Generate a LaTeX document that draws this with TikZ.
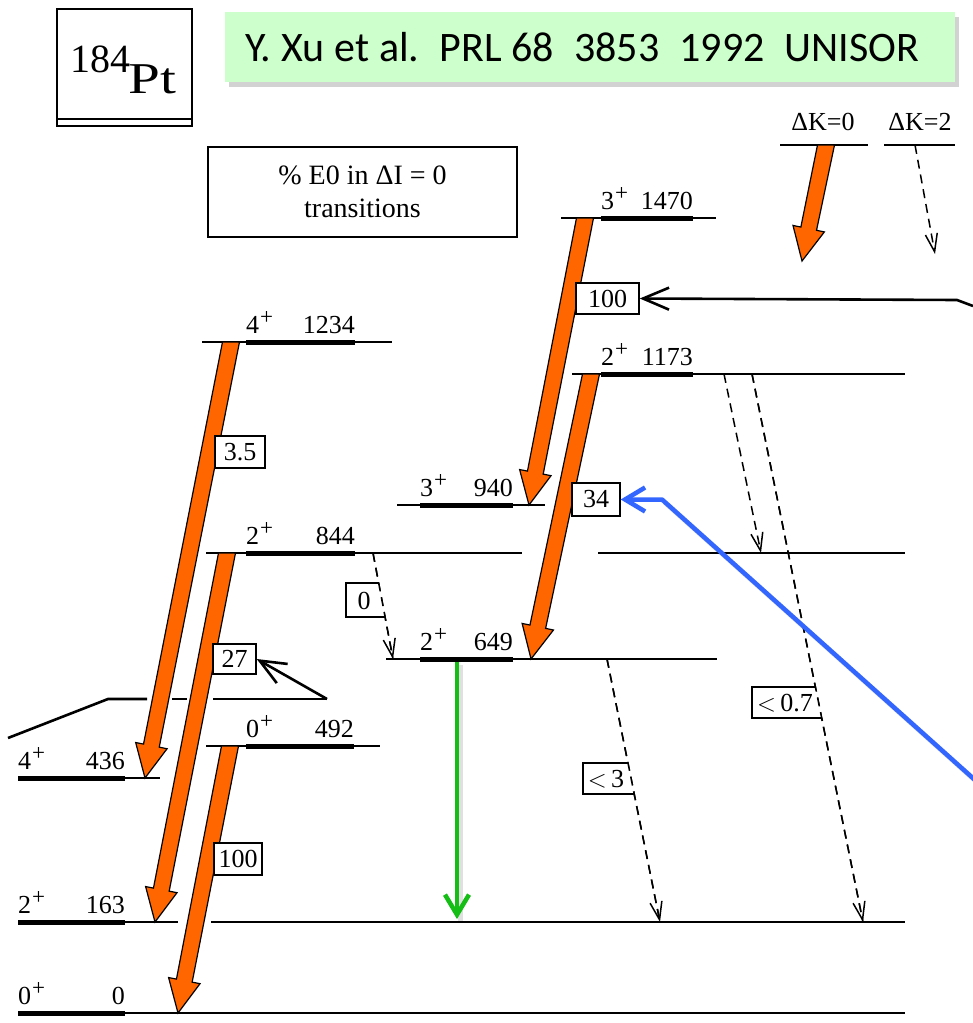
\documentclass[tikz,border=0pt]{standalone}
\usepackage{fontspec}
\setmainfont{Liberation Serif}
\newfontfamily\titlefont{Carlito}
\usetikzlibrary{arrows.meta,calc,shadows}
\definecolor{orng}{RGB}{255,102,0}
\definecolor{ttlgreen}{RGB}{204,255,204}
\definecolor{grn}{RGB}{20,190,20}
\definecolor{blu}{RGB}{51,102,255}
\newcommand\pls{\kern1pt\raisebox{9pt}{\fontsize{23}{23}\selectfont +}}
\newcommand\orangearrow[2]{%
  \coordinate (#1-#2-h) at ($(#2)!33pt!(#1)$);
  \filldraw[orangefill] ($(#1)+(-8.5,0)$) -- ($(#1-#2-h)!8pt!-90:(#2)$) -- ($(#1-#2-h)!16pt!-90:(#2)$) -- (#2) -- ($(#1-#2-h)!16pt!90:(#2)$) -- ($(#1-#2-h)!8pt!90:(#2)$) -- ($(#1)+(8.5,0)$) -- cycle;}
\tikzset{
  thinlvl/.style={line width=1.5pt},
  thicklvl/.style={line width=5pt},
  orangefill/.style={fill=orng, draw=black, line width=1.2pt, line join=miter},
  lbl/.style={font=\fontsize{26}{30}\selectfont, inner sep=0pt},
  valbox/.style={draw, fill=white, line width=1.4pt, font=\fontsize{26}{30}\selectfont, inner sep=0pt},
  halfbox/.style={line width=1.4pt},
  dasharrow/.style={line width=1.5pt, dash pattern=on 9pt off 6pt, -{Straight Barb[length=18pt,width=12pt,line width=1.5pt]}},
  pointer/.style={line width=2.6pt, -{Straight Barb[length=26pt,width=22pt,line width=2.6pt]}},
  colarrow/.style={line width=4.5pt, -{Straight Barb[length=20pt,width=24pt,line width=4.5pt]}},
  shadowline/.style={line width=5pt, draw=black, opacity=0.12}
}
\begin{document}
\begin{tikzpicture}[x=1pt,y=-1pt]
\useasboundingbox (0,0) rectangle (973,1023);
\fill[white] (0,0) rectangle (973,1023);

% ---- Pt box
\node[draw, line width=1.8pt, minimum width=135pt, minimum height=117pt, inner sep=0pt] (ptbox) at (124.5,67.5) {};
\draw[line width=1.5pt] ($(ptbox.south west)+(0,-8)$) coordinate (ptl) -- ($(ptbox.south east)+(0,-8)$) coordinate (ptr);
\node[anchor=base west, inner sep=0pt, font=\fontsize{40}{44}\selectfont] (mass) at (70,72) {184};
\node[anchor=base west, inner sep=0pt, font=\fontsize{44}{48}\selectfont] (elem) at (128,93) {\scalebox{1.3}[1]{Pt}};

% ---- title
\node[anchor=north west, fill=ttlgreen, minimum width=730pt, minimum height=70pt, inner sep=0pt,
      drop shadow={shadow xshift=4pt, shadow yshift=-5pt, opacity=0.35}] (titlebox) at (225,12) {};
\node[anchor=west, inner sep=0pt, font=\titlefont\fontsize{42}{50}\selectfont] (title) at (245,47)
  {Y.\hspace{10pt}Xu\hspace{10pt}et\hspace{10pt}al.\hspace{20pt}PRL\hspace{10pt}68\hspace{20pt}3853\hspace{20pt}1992\hspace{20pt}UNISOR};

% ---- E0 box
\node[draw, line width=1.5pt, minimum width=309pt, minimum height=90pt, align=center, font=\fontsize{28}{33}\selectfont] (e0box) at (362.5,192) {\% E0 in ΔI = 0\\transitions};

% ---- legend
\node[lbl, anchor=base] (lk0) at (823,130) {ΔK=0};
\node[lbl, anchor=base] (lk2) at (920,130) {ΔK=2};
\draw[thinlvl] (780,145) coordinate (lg0a) -- (868,145) coordinate (lg0b);
\draw[thinlvl] (884,145) coordinate (lg2a) -- (955,145) coordinate (lg2b);
\coordinate (leg0s) at (826,145);
\coordinate (leg0e) at (802,261);
\coordinate (leg2s) at (915,145);
\coordinate (leg2e) at (935,254);
\draw[dasharrow] (leg2s) -- (leg2e);

% ---- levels
% 0
\draw[thinlvl] (125,1013) -- (905,1013);
\draw[thicklvl] (18,1013) -- (125,1013);
\node[lbl, anchor=base west] (l0j) at (18,1004) {0\pls};
\node[lbl, anchor=base east] (l0e) at (125,1004) {0};
% 163
\draw[thinlvl] (125,922) -- (178,922);
\draw[thinlvl] (211,922) -- (905,922);
\draw[thicklvl] (18,922) -- (125,922);
\node[lbl, anchor=base west] (l163j) at (18,913) {2\pls};
\node[lbl, anchor=base east] (l163e) at (125,913) {163};
% 436
\draw[thinlvl] (125,778) -- (160,778);
\draw[thicklvl] (18,778) -- (125,778);
\node[lbl, anchor=base west] (l436j) at (18,769) {4\pls};
\node[lbl, anchor=base east] (l436e) at (125,769) {436};
% 492
\draw[thinlvl] (206,746) -- (380,746);
\draw[thicklvl] (246,746) -- (354,746);
\node[lbl, anchor=base west] (l492j) at (246,737) {0\pls};
\node[lbl, anchor=base east] (l492e) at (354,737) {492};
% 649
\draw[thinlvl] (386,659) -- (717,659);
\draw[thicklvl] (420,659) -- (513,659);
\node[lbl, anchor=base west] (l649j) at (420,650) {2\pls};
\node[lbl, anchor=base east] (l649e) at (513,650) {649};
% 844
\draw[thinlvl] (206,553) -- (522,553);
\draw[thinlvl] (598,553) -- (905,553);
\draw[thicklvl] (246,553) -- (355,553);
\node[lbl, anchor=base west] (l844j) at (246,544) {2\pls};
\node[lbl, anchor=base east] (l844e) at (355,544) {844};
% 940
\draw[thinlvl] (397,505) -- (545,505);
\draw[thicklvl] (420,505) -- (513,505);
\node[lbl, anchor=base west] (l940j) at (420,496) {3\pls};
\node[lbl, anchor=base east] (l940e) at (513,496) {940};
% 1173
\draw[thinlvl] (572,374) -- (905,374);
\draw[thicklvl] (601,374) -- (693,374);
\node[lbl, anchor=base west] (l1173j) at (601,365) {2\pls};
\node[lbl, anchor=base east] (l1173e) at (693,365) {1173};
% 1234
\draw[thinlvl] (202,342) -- (392,342);
\draw[thicklvl] (246,342) -- (355,342);
\node[lbl, anchor=base west] (l1234j) at (246,333) {4\pls};
\node[lbl, anchor=base east] (l1234e) at (355,333) {1234};
% 1470
\draw[thinlvl] (561,218) -- (716,218);
\draw[thicklvl] (601,218) -- (693,218);
\node[lbl, anchor=base west] (l1470j) at (601,209) {3\pls};
\node[lbl, anchor=base east] (l1470e) at (693,209) {1470};

% ---- transition end points
\coordinate (t1s) at (231,342);  \coordinate (t1e) at (145,778);
\coordinate (t2s) at (227,553);  \coordinate (t2e) at (155,922);
\coordinate (t3s) at (230,746);  \coordinate (t3e) at (178,1013);
\coordinate (t4s) at (585,218);  \coordinate (t4e) at (529,505);
\coordinate (t5s) at (591,374);  \coordinate (t5e) at (531,659);
\coordinate (d1s) at (373,553);  \coordinate (d1e) at (393,659);
\coordinate (d2s) at (607,659);  \coordinate (d2e) at (660,922);
\coordinate (d3s) at (724,374);  \coordinate (d3e) at (761,553);
\coordinate (d4s) at (752,374);  \coordinate (d4e) at (863,922);
\coordinate (gs) at (457,662);   \coordinate (ge) at (457,919);

% ---- pointer line for 27 (drawn before arrows)
\coordinate (p27a) at (8,738);
\coordinate (p27b) at (108,699);
\coordinate (p27c) at (327,699);
\draw[line width=2.6pt] (p27a) -- (p27b) -- (147,699);
\draw[line width=2.6pt] (172,699) -- (187,699);
\draw[line width=2.6pt] (213,699) -- (p27c);

% ---- orange arrows
\orangearrow{t1s}{t1e}
\orangearrow{t2s}{t2e}
\orangearrow{t3s}{t3e}
\orangearrow{t4s}{t4e}
\orangearrow{t5s}{t5e}
\orangearrow{leg0s}{leg0e}

% ---- dashed transitions
\draw[dasharrow] (d1s) -- (d1e);
\draw[dasharrow] (d2s) -- (d2e);
\draw[dasharrow] (d3s) -- (d3e);
\draw[dasharrow] (d4s) -- (d4e);

% ---- half boxes on dashed lines
\fill[white] (346,583) -- (378.7,583) -- (385.1,617) -- (346,617) -- cycle;
\draw[halfbox] (378.7,583) -- (346,583) -- (346,617) -- (385.1,617);
\node[lbl] (v0) at (364,601) {0};
\fill[white] (583,763) -- (627.9,763) -- (634.1,794) -- (583,794) -- cycle;
\draw[halfbox] (627.9,763) -- (583,763) -- (583,794) -- (634.1,794);
\node[lbl] (vlt3) at (606,779) {$<$\,3};
\fill[white] (752,687) -- (815.4,687) -- (821.7,718) -- (752,718) -- cycle;
\draw[halfbox] (815.4,687) -- (752,687) -- (752,718) -- (821.7,718);
\node[lbl] (vlt07) at (785,703) {$<$\,0.7};
\draw[line width=1.5pt, dash pattern=on 9pt off 6pt] (d1s) -- (d1e);
\draw[line width=1.5pt, dash pattern=on 9pt off 6pt] (d2s) -- (d2e);
\draw[line width=1.5pt, dash pattern=on 9pt off 6pt] (d4s) -- (d4e);

% ---- value boxes
\node[valbox, minimum width=50pt, minimum height=32pt] (b35) at (240,452) {3.5};
\node[valbox, minimum width=43pt, minimum height=30pt] (b27) at (234.5,659) {27};
\node[valbox, minimum width=48pt, minimum height=32pt] (b100l) at (238,859) {100};
\node[valbox, minimum width=48pt, minimum height=33pt] (b34) at (596,499.5) {34};
\node[valbox, minimum width=63pt, minimum height=31pt] (b100u) at (607.5,298.5) {100};

% ---- black pointers
\draw[pointer] (p27c) -- (b27.east);
\coordinate (p100a) at (973,306);
\coordinate (p100b) at (957,300);
\draw[pointer] (p100a) -- (p100b) -- (b100u.east);

% ---- green arrow
\draw[shadowline] ($(gs)+(3,3)$) -- ($(ge)+(3,3)$);
\draw[colarrow, grn] (gs) -- (ge);

% ---- blue arrow
\coordinate (bla) at (975,780);
\coordinate (blb) at (662,499.5);
\draw[shadowline] ($(bla)+(3,3)$) -- ($(blb)+(3,3)$);
\draw[colarrow, blu, line join=round] (bla) -- (blb) -- (b34.east);
\end{tikzpicture}
\end{document}
